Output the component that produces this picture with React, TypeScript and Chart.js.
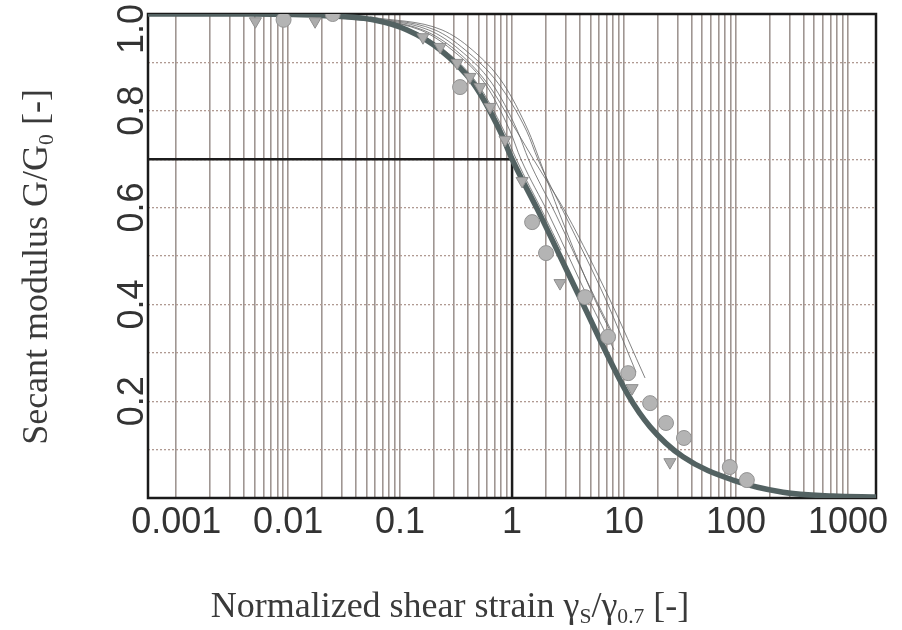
import React, { useEffect, useRef } from 'react';
import { Chart, registerables } from 'chart.js';

Chart.register(...registerables);

// ---------- axis ranges & tick labels ----------
const X_MIN = 0.00056;
const X_MAX = 1780;
const X_DECADES = [0.001, 0.01, 0.1, 1, 10, 100, 1000];
const X_TICK_LABELS = ['0.001', '0.01', '0.1', '1', '10', '100', '1000'];
const X_MINOR_MULTIPLIERS = [1, 2, 3, 4, 5, 6, 7, 8, 9];
const Y_TICK_VALUES = [0.2, 0.4, 0.6, 0.8, 1.0];
const Y_TICK_LABELS = ['0.2', '0.4', '0.6', '0.8', '1.0'];

const X_TITLE_PARTS = [
  { text: 'Normalized shear strain γ', sub: false },
  { text: 'S', sub: true },
  { text: '/γ', sub: false },
  { text: '0.7', sub: true },
  { text: ' [-]', sub: false },
];
const Y_TITLE_PARTS = [
  { text: 'Secant modulus G/G', sub: false },
  { text: '0', sub: true },
  { text: ' [-]', sub: false },
];

// ---------- main (thick) curve ----------
const MAIN_X = [0.00056, 0.0046, 0.0237, 0.0574, 0.1155, 0.228, 0.449, 0.781, 1.0, 1.78, 4.13, 10.86, 17.1, 33.6, 94, 263, 735, 1780];
const MAIN_Y = [1.0, 1.0, 0.996, 0.988, 0.967, 0.926, 0.857, 0.758, 0.70, 0.585, 0.409, 0.213, 0.147, 0.085, 0.037, 0.012, 0.004, 0.002];

// ---------- reference lines (0.7 at 1) ----------
const REF_X = [X_MIN, 1, 1];
const REF_Y = [0.7, 0.7, 0];

// ---------- thin measured curves ----------
const THIN_A_X = [0.032, 0.151, 0.29, 0.57, 0.96, 1.2, 2.14, 4.87, 8.15];
const THIN_A_Y = [0.994, 0.967, 0.926, 0.857, 0.758, 0.70, 0.585, 0.409, 0.306];
const THIN_B_X = [0.04, 0.18, 0.34, 0.66, 1.12, 1.4, 2.47, 5.62, 7.65];
const THIN_B_Y = [0.994, 0.967, 0.926, 0.857, 0.758, 0.70, 0.585, 0.409, 0.347];
const THIN_C_X = [0.044, 0.205, 0.38, 0.75, 1.35, 1.7, 2.97, 6.9, 12.8];
const THIN_C_Y = [0.994, 0.967, 0.926, 0.857, 0.758, 0.70, 0.585, 0.409, 0.26];
const THIN_D_X = [0.054, 0.237, 0.44, 0.83, 1.4, 1.75, 2.68, 5.51, 8.3];
const THIN_D_Y = [0.994, 0.967, 0.926, 0.857, 0.758, 0.70, 0.585, 0.409, 0.326];
const THIN_E_X = [0.0257, 0.125, 0.247, 0.487, 0.849, 1.09, 1.93, 2.74];
const THIN_E_Y = [0.994, 0.967, 0.926, 0.857, 0.758, 0.70, 0.585, 0.512];
const THIN_F_X = [0.0373, 0.16, 0.31, 0.6, 1.1, 1.55, 3.10, 7.5, 15.4];
const THIN_F_Y = [0.994, 0.967, 0.926, 0.857, 0.758, 0.70, 0.585, 0.409, 0.248];

// ---------- markers ----------
const CIRCLE_X = [0.0091, 0.025, 0.343, 1.51, 2.01, 4.49, 7.2, 10.9, 17.1, 23.7, 34.3, 88, 125];
const CIRCLE_Y = [0.988, 1.0, 0.849, 0.570, 0.506, 0.415, 0.333, 0.258, 0.196, 0.155, 0.124, 0.064, 0.037];
const TRI_X = [0.0051, 0.0174, 0.16, 0.228, 0.323, 0.42, 0.518, 0.637, 0.866, 1.23, 2.68, 11.8, 25.7];
const TRI_Y = [0.985, 0.985, 0.952, 0.932, 0.899, 0.870, 0.849, 0.808, 0.74, 0.655, 0.444, 0.227, 0.074];

const SANS = '"Liberation Sans", Arial, sans-serif';
const SERIF = '"Liberation Serif", "Times New Roman", serif';

const pts = (xs: number[], ys: number[]) => xs.map((x, i) => ({ x, y: ys[i] }));

function buildGridValues(): number[] {
  const out: number[] = [];
  X_DECADES.forEach((d) => {
    X_MINOR_MULTIPLIERS.forEach((m) => {
      const v = parseFloat((d * m).toPrecision(3));
      if (v >= X_MIN && v <= X_MAX) out.push(v);
    });
  });
  return out;
}

function xLabel(value: number): string {
  for (let i = 0; i < X_DECADES.length; i++) {
    if (Math.abs(Math.log10(value) - Math.log10(X_DECADES[i])) < 1e-6) return X_TICK_LABELS[i];
  }
  return '';
}

type Part = { text: string; sub: boolean };
const SUB_SCALE = 0.6;

function richWidth(ctx: CanvasRenderingContext2D, parts: Part[], size: number) {
  let w = 0;
  parts.forEach((p) => {
    ctx.font = `${p.sub ? size * SUB_SCALE : size}px ${SERIF}`;
    w += ctx.measureText(p.text).width;
  });
  return w;
}

function drawRich(ctx: CanvasRenderingContext2D, parts: Part[], x: number, y: number, size: number) {
  let cx = x;
  parts.forEach((p) => {
    ctx.font = `${p.sub ? size * SUB_SCALE : size}px ${SERIF}`;
    ctx.fillText(p.text, cx, p.sub ? y + size * 0.17 : y);
    cx += ctx.measureText(p.text).width;
  });
}

const decorPlugin = {
  id: 'decor',
  beforeDatasetsDraw(chart: any) {
    const { ctx, chartArea: a } = chart;
    ctx.save();
    ctx.strokeStyle = '#1a1a1a';
    ctx.lineWidth = 2.5;
    ctx.strokeRect(a.left, a.top, a.right - a.left, a.bottom - a.top);
    ctx.restore();
  },
  afterDraw(chart: any) {
    const { ctx, chartArea: a } = chart;
    const yScale = chart.scales.y;
    // y tick labels (rotated)
    ctx.save();
    ctx.fillStyle = '#333';
    ctx.font = `36px ${SANS}`;
    Y_TICK_VALUES.forEach((v, i) => {
      const label = Y_TICK_LABELS[i];
      const w = ctx.measureText(label).width;
      const py = yScale.getPixelForValue(v);
      const cy = Math.max(py, 4 + w / 2);
      ctx.save();
      ctx.translate(a.left - 5, cy);
      ctx.rotate(-Math.PI / 2);
      ctx.textAlign = 'center';
      ctx.textBaseline = 'alphabetic';
      ctx.fillText(label, 0, 0);
      ctx.restore();
    });
    ctx.restore();

    // axis titles
    const size = 36;
    ctx.save();
    ctx.fillStyle = '#3a3a3a';
    ctx.textAlign = 'left';
    ctx.textBaseline = 'alphabetic';
    const xw = richWidth(ctx, X_TITLE_PARTS, size);
    drawRich(ctx, X_TITLE_PARTS, 450 - xw / 2, 617, size);
    const yw = richWidth(ctx, Y_TITLE_PARTS, size);
    ctx.translate(47, 267);
    ctx.rotate(-Math.PI / 2);
    drawRich(ctx, Y_TITLE_PARTS, -yw / 2, 0, size);
    ctx.restore();
  },
};

export default function App() {
  const ref = useRef<HTMLCanvasElement | null>(null);

  useEffect(() => {
    if (!ref.current) return;
    const gridValues = buildGridValues();
    const thin = (xs: number[], ys: number[]) => ({
      data: pts(xs, ys),
      borderColor: 'rgba(100,100,100,0.8)',
      borderWidth: 1,
      pointRadius: 0,
      cubicInterpolationMode: 'monotone' as const,
      fill: false,
      order: 2,
    });
    const chart = new Chart(ref.current, {
      type: 'line',
      data: {
        datasets: [
          {
            data: pts(CIRCLE_X, CIRCLE_Y),
            showLine: false,
            pointStyle: 'circle',
            pointRadius: 7.5,
            backgroundColor: '#b4b4b4',
            borderColor: '#929292',
            borderWidth: 1,
            order: 0,
          },
          {
            data: pts(TRI_X, TRI_Y),
            showLine: false,
            pointStyle: 'triangle',
            pointRotation: 180,
            pointRadius: 7,
            backgroundColor: '#acacac',
            borderColor: '#8e8e8e',
            borderWidth: 1,
            order: 0,
          },
          {
            data: pts(MAIN_X, MAIN_Y),
            borderColor: '#536262',
            borderWidth: 5.5,
            pointRadius: 0,
            cubicInterpolationMode: 'monotone',
            fill: false,
            order: 1,
          },
          thin(THIN_A_X, THIN_A_Y),
          thin(THIN_B_X, THIN_B_Y),
          thin(THIN_C_X, THIN_C_Y),
          thin(THIN_D_X, THIN_D_Y),
          thin(THIN_E_X, THIN_E_Y),
          thin(THIN_F_X, THIN_F_Y),
          {
            data: pts(REF_X, REF_Y),
            borderColor: '#1c1c1c',
            borderWidth: 2.5,
            pointRadius: 0,
            tension: 0,
            fill: false,
            order: 3,
          },
        ],
      },
      options: {
        animation: false,
        responsive: false,
        events: [],
        layout: { padding: { top: 14, right: 26, left: 0, bottom: 0 } },
        plugins: { legend: { display: false }, tooltip: { enabled: false }, title: { display: false } },
        scales: {
          x: {
            type: 'logarithmic',
            min: X_MIN,
            max: X_MAX,
            afterBuildTicks: (scale: any) => {
              scale.ticks = gridValues.map((v) => ({ value: v }));
            },
            afterFit: (scale: any) => {
              scale.height = 132;
            },
            grid: { color: '#9f9692', lineWidth: 1.6, drawTicks: false },
            border: { display: false },
            ticks: {
              autoSkip: false,
              maxRotation: 0,
              minRotation: 0,
              padding: 3,
              color: '#333',
              font: { family: SANS, size: 36 },
              callback: (value: any) => xLabel(Number(value)),
            },
          },
          y: {
            type: 'linear',
            min: 0,
            max: 1,
            afterFit: (scale: any) => {
              scale.width = 148;
            },
            ticks: { display: false, stepSize: 0.1 },
            grid: { color: '#b09a92', lineWidth: 1.3, drawTicks: false },
            border: { display: false, dash: [2, 2] },
          },
        },
      } as any,
      plugins: [decorPlugin],
    });
    return () => chart.destroy();
  }, []);

  return (
    <div style={{ position: 'fixed', left: 0, top: 0, width: 902, height: 630, background: '#fff' }}>
      <canvas ref={ref} width={902} height={630} style={{ width: 902, height: 630, display: 'block' }} />
    </div>
  );
}
